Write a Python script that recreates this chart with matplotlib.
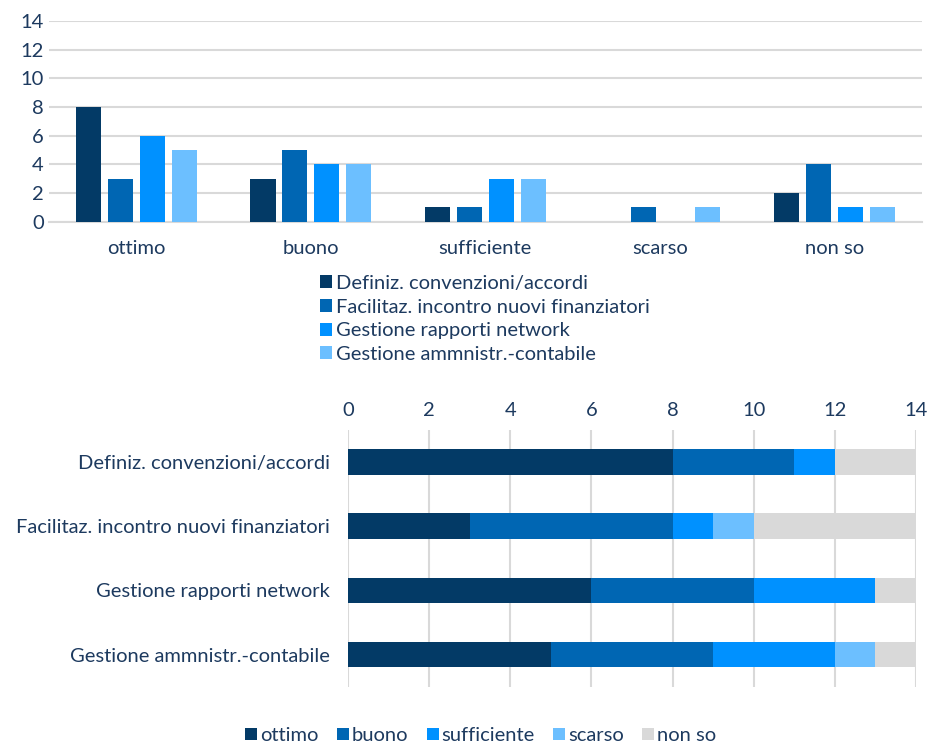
import numpy as np
import matplotlib.pyplot as plt

categories = ['ottimo', 'buono', 'sufficiente', 'scarso', 'non so']
services = ['Definiz. convenzioni/accordi',
            'Facilitaz. incontro nuovi finanziatori',
            'Gestione rapporti network',
            'Gestione ammnistr.-contabile']

# counts per service, one value per rating category
definiz = [8, 3, 1, 0, 2]
facilitaz = [3, 5, 1, 1, 4]
rapporti = [6, 4, 3, 0, 1]
amministr = [5, 4, 3, 1, 1]

service_colors = ['#033a66', '#0066b3', '#0091ff', '#6cbfff']
rating_colors = ['#033a66', '#0066b3', '#0091ff', '#6cbfff', '#d9d9d9']
text_color = '#1d3a5f'
grid_color = '#d9d9d9'
fs = 14.5

plt.rcParams['font.family'] = ['Lato', 'DejaVu Sans']
plt.rcParams['font.size'] = fs
plt.rcParams['text.color'] = text_color

fig = plt.figure(figsize=[9.28, 7.44], dpi=100)

# ---- top: grouped vertical bars ----
ax1 = fig.add_axes([0.053, 0.702, 0.940, 0.270])
series = [definiz, facilitaz, rapporti, amministr]
x = np.arange(len(categories))
width = 0.144
step = 0.183
for i, (vals, col) in enumerate(zip(series, service_colors)):
    ax1.bar(x + (i - 1.5) * step, vals, width, color=col, label=services[i], zorder=3)
ax1.set_xlim(-0.5, 4.5)
ax1.set_ylim(0, 14)
ax1.set_yticks(range(0, 15, 2))
ax1.set_xticks(x)
ax1.set_xticklabels(categories)
ax1.yaxis.grid(True, color=grid_color, linewidth=1.5, zorder=0)
for s in ['left', 'right', 'top']:
    ax1.spines[s].set_visible(False)
ax1.spines['bottom'].set_color(grid_color)
ax1.spines['bottom'].set_linewidth(1.5)
ax1.tick_params(length=0, colors=text_color, labelsize=fs)
ax1.tick_params(axis='x', pad=13)
ax1.tick_params(axis='y', pad=4)
ax1.legend(loc='upper center', bbox_to_anchor=(0.5, -0.175), frameon=False,
           handlelength=0.6, handleheight=0.6, handletextpad=0.2,
           labelspacing=0.33, fontsize=fs, labelcolor=text_color)

# ---- bottom: stacked horizontal bars ----
ax2 = fig.add_axes([0.375, 0.077, 0.612, 0.345])
counts = np.array(series)  # services x ratings
y = np.arange(len(services))
left = np.zeros(len(services))
for j, (cat, col) in enumerate(zip(categories, rating_colors)):
    ax2.barh(y, counts[:, j], 0.4, left=left, color=col, label=cat, zorder=3)
    left += counts[:, j]
ax2.set_ylim(3.5, -0.5)
ax2.set_xlim(0, 14)
ax2.set_xticks(range(0, 15, 2))
ax2.set_yticks(y)
ax2.set_yticklabels(services)
ax2.xaxis.tick_top()
ax2.xaxis.grid(True, color=grid_color, linewidth=1.5, zorder=0)
for s in ['left', 'right', 'top', 'bottom']:
    ax2.spines[s].set_visible(False)
ax2.tick_params(length=0, colors=text_color, labelsize=fs)
ax2.tick_params(axis='y', pad=13)
ax2.tick_params(axis='x', pad=8)
ax2.legend(loc='upper center', bbox_to_anchor=(0.5 - 0.375 / 0.612 * 0.5 + 0.04, -0.11),
           ncol=5, frameon=False, handlelength=0.6, handleheight=0.6,
           handletextpad=0.15, columnspacing=0.9, fontsize=fs,
           labelcolor=text_color, borderaxespad=0.2)

fig.savefig('out.png', dpi=100)
